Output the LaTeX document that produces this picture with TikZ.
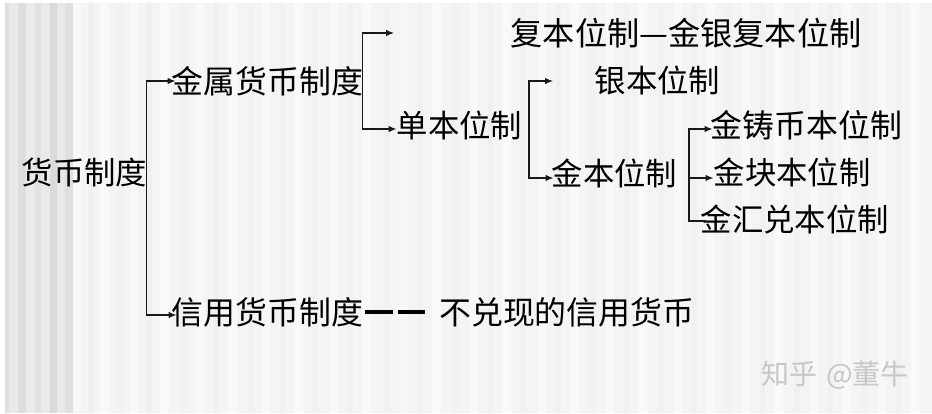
\documentclass[tikz,border=0pt]{standalone}
\usepackage{fontspec}
\setmainfont{Noto Sans CJK SC}
\usetikzlibrary{arrows.meta}
\tikzset{
  x=1pt,y=-1pt,
  lbl/.style={anchor=west,inner sep=0pt,text=black,font=\fontsize{31.4}{32}\selectfont},
  lblb/.style={lbl,font=\fontsize{31.9}{32}\selectfont},
  conn/.style={line width=1.1pt,draw=black!90},
  arr/.style={conn,-{Latex[length=8pt,width=6.5pt]}},
  bigdash/.style={line width=3.6pt,draw=black}
}
\definecolor{bgbase}{HTML}{F4F4F4}
\begin{document}
\begin{tikzpicture}
\useasboundingbox (0,0) rectangle (932,413);
\fill[white] (0,0) rectangle (932,413);
\fill[bgbase] (5,3) rectangle (932,413);
% stripes
\foreach \xs/\w/\c in {73/8/F8,88/6/F0,100/9/F9,118/5/F1,130/8/F8,146/6/F0,160/9/F9,180/6/F1,196/8/F8,214/5/F0,228/9/F9,248/6/F1,262/8/F8,280/5/F0,294/9/F9,312/6/F1,330/8/F8,348/5/F0,362/9/F9,384/6/F1,400/8/F8,418/5/F0,432/9/F9,452/6/F1,470/8/F8,488/5/F0,502/9/F9,520/6/F1,538/8/F8,556/5/F0,570/9/F9,590/6/F1,606/8/F8,624/5/F0,638/9/F9,658/6/F1,674/8/F8,692/5/F0,706/9/F9,726/6/F1,742/8/F8,760/5/F0,774/9/F9,794/6/F1,810/8/F8,828/5/F0,842/9/F9,862/6/F1,878/8/F8,896/5/F0,910/9/F9}{
  \definecolor{st}{HTML}{\c\c\c}
  \fill[st] (\xs,3) rectangle ++(\w,410);
}
\foreach \xs/\w/\c in {5/4/DF,9/9/E9,18/8/DD,26/9/EA,35/6/E1,41/9/EA,50/7/DA,57/8/E8,65/8/DF}{
  \definecolor{st}{HTML}{\c\c\c}
  \fill[st] (\xs,3) rectangle ++(\w,410);
}
% labels
\node[lbl]  (root)   at (21.5,172)  {货币制度};
\node[lblb] (metal)  at (171.5,81)  {金属货币制度};
\node[lblb] (credit) at (171.5,312) {信用货币制度};
\node[lblb] (fiat)   at (439,312) {不兑现的信用货币};
\node[anchor=west,inner sep=0pt,text=black,font=\fontsize{32.2}{32}\selectfont] (bimet)  at (510.5,33)  {复本位制—金银复本位制};
\node[lbl]  (silver) at (594.5,80)  {银本位制};
\node[lbl]  (mono)   at (396.5,125) {单本位制};
\node[lbl]  (gold)   at (551.5,173) {金本位制};
\node[lblb] (coin)   at (710.5,125) {金铸币本位制};
\node[lbl]  (bull)   at (713.5,172) {金块本位制};
\node[lbl]  (excg)   at (700.5,219) {金汇兑本位制};
\node[text=black!22,anchor=west,inner sep=0pt,font=\fontsize{28}{28}\selectfont] (mark) at (761,375) {知乎\hspace{3pt} @董牛};
% free ends
\coordinate (bimetEnd) at (394,33);
\coordinate (silverEnd) at (553,81);
\coordinate (monoOut) at (529,129);
\coordinate (goldOut) at (689,178);
\coordinate (rootOut) at ([xshift=-1pt]root.east);
\coordinate (metalOut) at ([xshift=-1pt]metal.east);
% connectors
\draw[arr] (rootOut) |- ([xshift=4pt]metal.west);
\draw[arr] (rootOut) |- ([xshift=5pt,yshift=-3pt]credit.west);
\draw[arr] (metalOut) |- (bimetEnd);
\draw[arr] (metalOut) |- ([yshift=-4pt]mono.west);
\draw[arr] (monoOut) |- (silverEnd);
\draw[arr] (monoOut) |- ([xshift=2pt,yshift=-5pt]gold.west);
\draw[arr] (goldOut) |- ([xshift=2pt,yshift=-4pt]coin.west);
\draw[arr] (goldOut) -- (goldOut -| bull.west);
\draw[conn] (goldOut) |- ([xshift=5pt,yshift=-2pt]excg.west);
\draw[bigdash] ([xshift=2pt]credit.east) -- ++(28,0);
\draw[bigdash] ([xshift=35pt]credit.east) -- ++(27,0);
\end{tikzpicture}
\end{document}
